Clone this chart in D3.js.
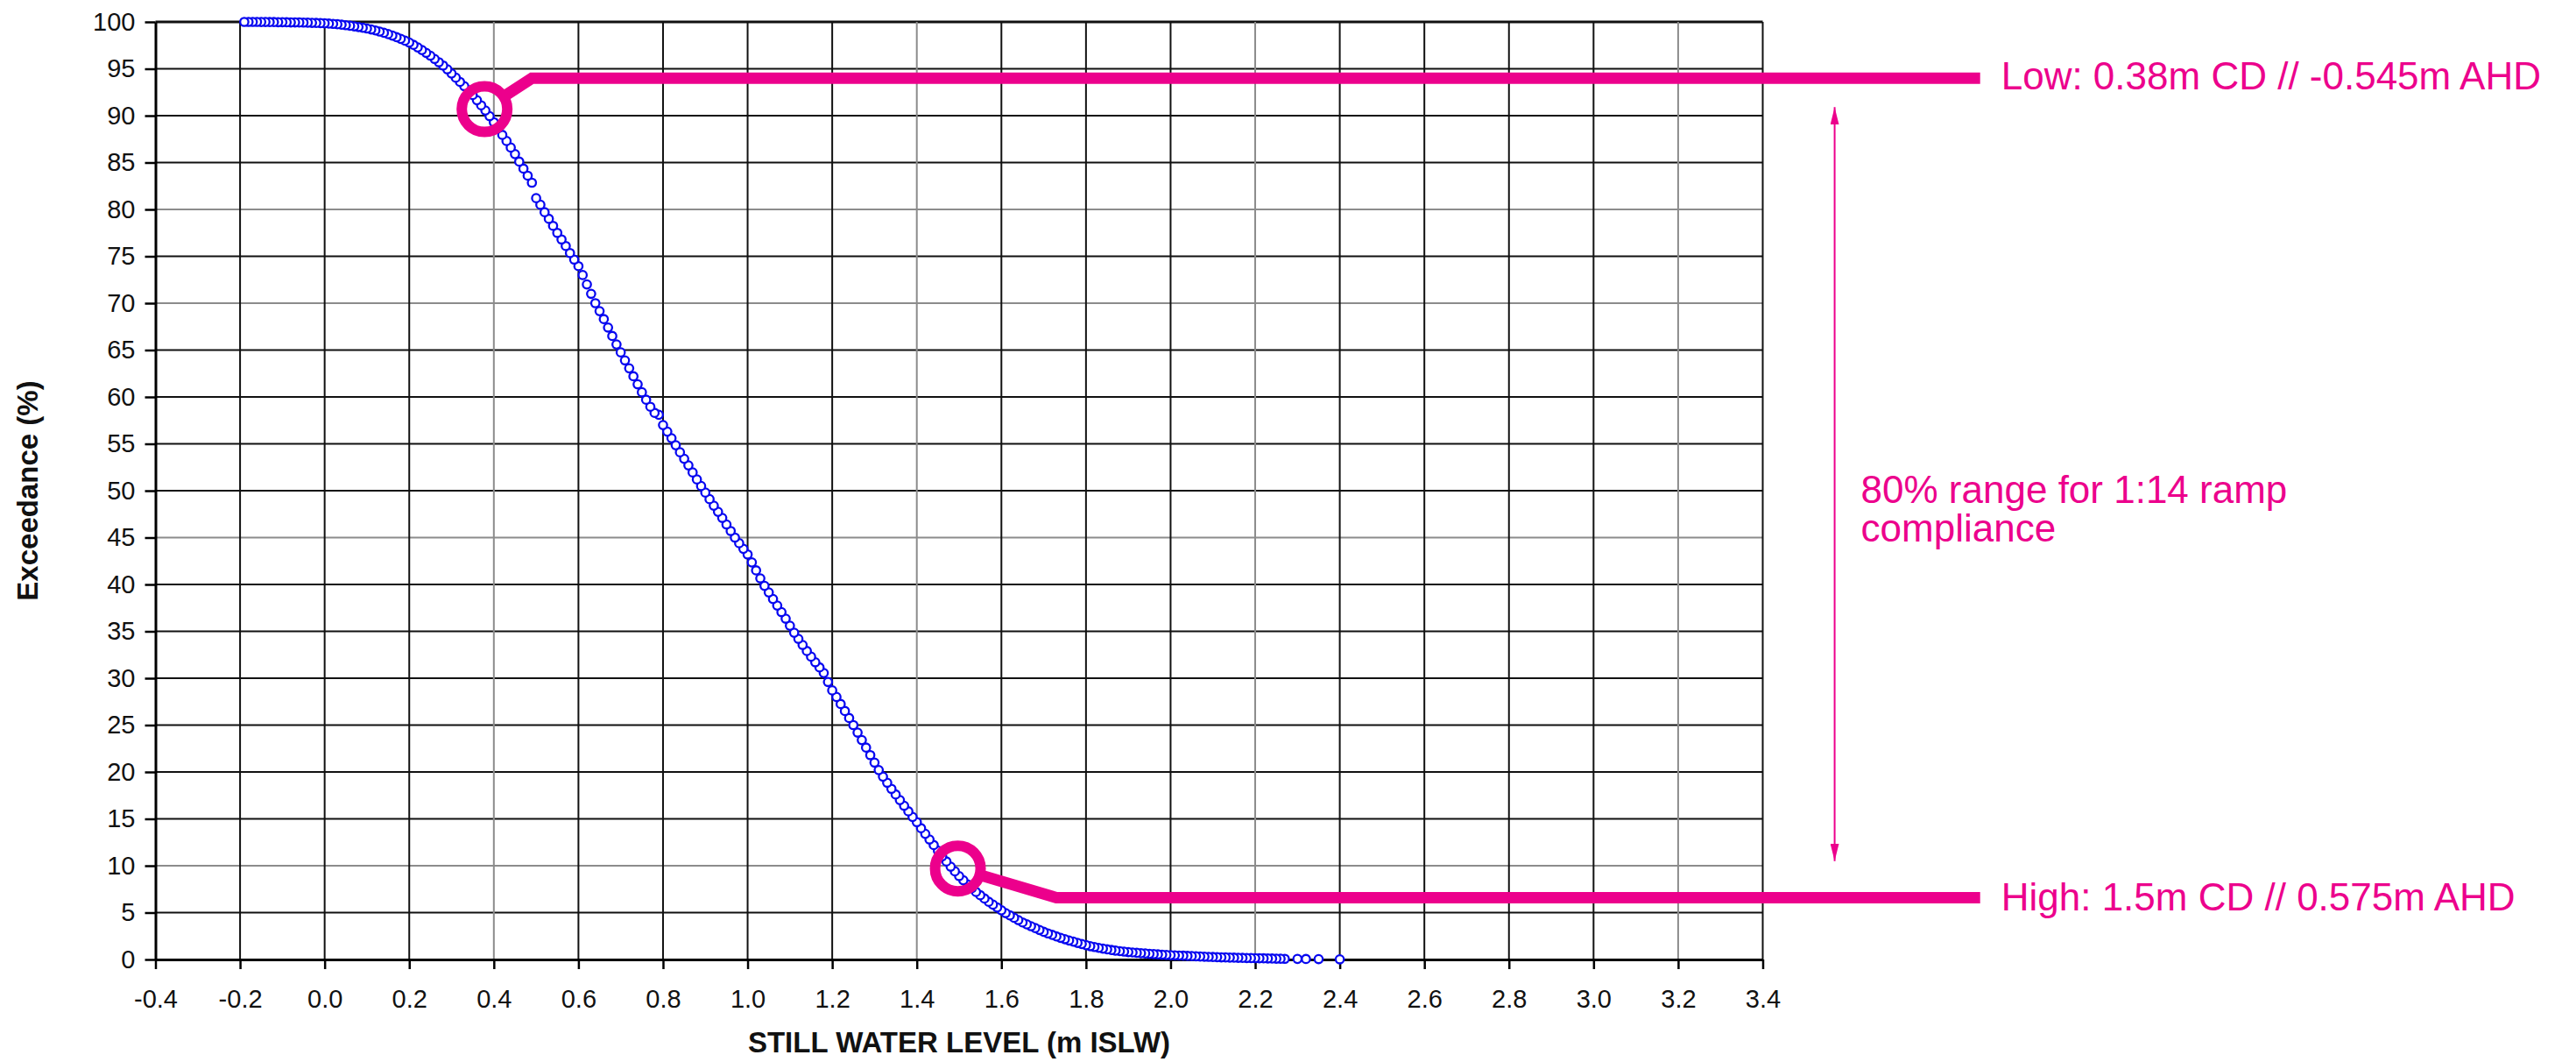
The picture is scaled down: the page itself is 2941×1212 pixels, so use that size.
<!DOCTYPE html>
<html>
<head>
<meta charset="utf-8">
<script src="https://cdn.jsdelivr.net/npm/d3@7"></script>
<style>
  html, body { margin: 0; padding: 0; background: #fff; }
  svg text { font-family: "Liberation Sans", Arial, sans-serif; }
</style>
</head>
<body>
<svg id="chart" width="2941" height="1212"></svg>
<script>
const levels = [
    -0.19, -0.18, -0.17, -0.16, -0.15, -0.14, -0.13, -0.12, -0.11, -0.10,
    -0.09, -0.08, -0.07, -0.06, -0.05, -0.04, -0.03, -0.02, -0.01, 0.00,
    0.01, 0.02, 0.03, 0.04, 0.05, 0.06, 0.07, 0.08, 0.09, 0.10,
    0.11, 0.12, 0.13, 0.14, 0.15, 0.16, 0.17, 0.18, 0.19, 0.20,
    0.21, 0.22, 0.23, 0.24, 0.25, 0.26, 0.27, 0.28, 0.29, 0.30,
    0.31, 0.32, 0.33, 0.34, 0.35, 0.36, 0.37, 0.38, 0.39, 0.40,
    0.41, 0.42, 0.43, 0.44, 0.45, 0.46, 0.47, 0.48, 0.49, 0.50,
    0.51, 0.52, 0.53, 0.54, 0.55, 0.56, 0.57, 0.58, 0.59, 0.60,
    0.61, 0.62, 0.63, 0.64, 0.65, 0.66, 0.67, 0.68, 0.69, 0.70,
    0.71, 0.72, 0.73, 0.74, 0.75, 0.76, 0.77, 0.78, 0.79, 0.80,
    0.81, 0.82, 0.83, 0.84, 0.85, 0.86, 0.87, 0.88, 0.89, 0.90,
    0.91, 0.92, 0.93, 0.94, 0.95, 0.96, 0.97, 0.98, 0.99, 1.00,
    1.01, 1.02, 1.03, 1.04, 1.05, 1.06, 1.07, 1.08, 1.09, 1.10,
    1.11, 1.12, 1.13, 1.14, 1.15, 1.16, 1.17, 1.18, 1.19, 1.20,
    1.21, 1.22, 1.23, 1.24, 1.25, 1.26, 1.27, 1.28, 1.29, 1.30,
    1.31, 1.32, 1.33, 1.34, 1.35, 1.36, 1.37, 1.38, 1.39, 1.40,
    1.41, 1.42, 1.43, 1.44, 1.45, 1.46, 1.47, 1.48, 1.49, 1.50,
    1.51, 1.52, 1.53, 1.54, 1.55, 1.56, 1.57, 1.58, 1.59, 1.60,
    1.61, 1.62, 1.63, 1.64, 1.65, 1.66, 1.67, 1.68, 1.69, 1.70,
    1.71, 1.72, 1.73, 1.74, 1.75, 1.76, 1.77, 1.78, 1.79, 1.80,
    1.81, 1.82, 1.83, 1.84, 1.85, 1.86, 1.87, 1.88, 1.89, 1.90,
    1.91, 1.92, 1.93, 1.94, 1.95, 1.96, 1.97, 1.98, 1.99, 2.00,
    2.01, 2.02, 2.03, 2.04, 2.05, 2.06, 2.07, 2.08, 2.09, 2.10,
    2.11, 2.12, 2.13, 2.14, 2.15, 2.16, 2.17, 2.18, 2.19, 2.20,
    2.21, 2.22, 2.23, 2.24, 2.25, 2.26, 2.27, 2.30, 2.32, 2.35, 2.40
];

const exceedance = [
    100.0, 100.0, 100.0, 100.0, 99.99, 99.99, 99.98, 99.98, 99.97, 99.97,
    99.96, 99.95, 99.95, 99.94, 99.93, 99.92, 99.90, 99.89, 99.87, 99.85,
    99.82, 99.79, 99.75, 99.70, 99.65, 99.59, 99.53, 99.46, 99.38, 99.30,
    99.20, 99.09, 98.97, 98.84, 98.70, 98.54, 98.37, 98.19, 98.00, 97.80,
    97.55, 97.28, 97.00, 96.70, 96.40, 96.05, 95.70, 95.35, 94.95, 94.50,
    94.05, 93.60, 93.15, 92.70, 92.20, 91.65, 91.10, 90.55, 89.95, 89.30,
    88.65, 87.95, 87.30, 86.60, 85.90, 85.10, 84.35, 83.60, 82.85, 81.20,
    80.50, 79.70, 79.00, 78.25, 77.50, 76.80, 76.10, 75.35, 74.65, 73.95,
    73.00, 72.00, 71.00, 70.00, 69.15, 68.30, 67.40, 66.50, 65.60, 64.75,
    63.90, 63.05, 62.20, 61.35, 60.50, 59.70, 58.95, 58.30, 58.10, 57.00,
    56.30, 55.60, 54.85, 54.10, 53.40, 52.70, 51.95, 51.20, 50.50, 49.80,
    49.10, 48.40, 47.75, 47.10, 46.40, 45.70, 45.00, 44.40, 43.80, 43.20,
    42.35, 41.50, 40.65, 39.85, 39.15, 38.45, 37.75, 37.05, 36.35, 35.60,
    34.85, 34.20, 33.55, 32.90, 32.30, 31.70, 31.15, 30.55, 29.60, 28.70,
    28.00, 27.25, 26.50, 25.75, 25.00, 24.20, 23.40, 22.60, 21.80, 21.00,
    20.20, 19.50, 18.85, 18.20, 17.60, 17.00, 16.40, 15.80, 15.20, 14.65,
    14.00, 13.40, 12.80, 12.20, 11.60, 11.00, 10.45, 9.90, 9.40, 8.90,
    8.45, 8.00, 7.60, 7.20, 6.85, 6.50, 6.15, 5.85, 5.55, 5.25,
    4.95, 4.70, 4.45, 4.20, 3.95, 3.75, 3.55, 3.35, 3.15, 2.95,
    2.78, 2.62, 2.46, 2.31, 2.17, 2.03, 1.90, 1.77, 1.65, 1.53,
    1.42, 1.33, 1.24, 1.16, 1.08, 1.01, 0.95, 0.89, 0.84, 0.79,
    0.75, 0.71, 0.67, 0.64, 0.60, 0.57, 0.54, 0.51, 0.48, 0.46,
    0.44, 0.42, 0.40, 0.38, 0.36, 0.34, 0.32, 0.30, 0.28, 0.26,
    0.25, 0.23, 0.22, 0.20, 0.19, 0.18, 0.17, 0.16, 0.15, 0.14,
    0.13, 0.12, 0.11, 0.10, 0.09, 0.08, 0.07, 0.06, 0.05, 0.04, 0.02
];

const xTicks = [-0.4, -0.2, 0.0, 0.2, 0.4, 0.6, 0.8, 1.0, 1.2, 1.4,
    1.6, 1.8, 2.0, 2.2, 2.4, 2.6, 2.8, 3.0, 3.2, 3.4];
const yTicks = [0, 5, 10, 15, 20, 25, 30, 35, 40, 45, 50,
    55, 60, 65, 70, 75, 80, 85, 90, 95, 100];

const xTitle = "STILL WATER LEVEL (m ISLW)";
const yTitle = "Exceedance (%)";
const lowLabel = "Low: 0.38m CD // -0.545m AHD";
const highLabel = "High: 1.5m CD // 0.575m AHD";
const rangeLabel = ["80% range for 1:14 ramp", "compliance"];

// annotation anchors, in data units
const lowPoint = [0.378, 90.7], lowKnee = [0.49, 94.0];
const highPoint = [1.497, 9.7], highKnee = [1.73, 6.6];
const leaderEndX = 3.914;
const rangeArrowX = 3.57, rangeArrowFrom = 90.9, rangeArrowTo = 10.5;

const svg = d3.select("#chart");
const pink = "#ec008c";

const x = d3.scaleLinear().domain([-0.4, 3.4]).range([177.5, 2012.5]);
const y = d3.scaleLinear().domain([0, 100]).range([1095, 25]);

// the scan shows some grid lines paler than others
const paleX = [0.4, 1.4, 2.2, 3.2], paleY = [80, 70, 45, 10];

const grid = svg.append("g").attr("class", "grid");
grid.selectAll("line.h")
    .data(yTicks.filter(d => d > 0))
    .enter()
    .append("line")
    .attr("class", "h")
    .attr("x1", x(-0.4))
    .attr("x2", x(3.4))
    .attr("y1", d => y(d))
    .attr("y2", d => y(d))
    .attr("stroke", d => paleY.includes(d) ? "#8c8c8c" : "#111")
    .attr("stroke-width", d => d === 100 ? 3 : 2);

grid.selectAll("line.v")
    .data(xTicks.filter(d => d > -0.4))
    .enter()
    .append("line")
    .attr("class", "v")
    .attr("x1", d => x(d))
    .attr("x2", d => x(d))
    .attr("y1", y(0))
    .attr("y2", y(100))
    .attr("stroke", d => paleX.includes(d) ? "#8c8c8c" : "#111")
    .attr("stroke-width", 2);

const xAxis = svg.append("g")
    .attr("transform", `translate(0,${y(0)})`)
    .call(d3.axisBottom(x)
        .tickValues(xTicks)
        .tickFormat(d => d.toFixed(1))
        .tickSize(11)
        .tickSizeOuter(0)
        .tickPadding(23));

const yAxis = svg.append("g")
    .attr("transform", `translate(${x(-0.4)},0)`)
    .call(d3.axisLeft(y)
        .tickValues(yTicks)
        .tickSize(12)
        .tickSizeOuter(0)
        .tickPadding(11));

[xAxis, yAxis].forEach(ax => {
    ax.select(".domain").attr("stroke", "#000").attr("stroke-width", 3);
    ax.selectAll(".tick line").attr("stroke", "#000").attr("stroke-width", 2.5);
    ax.selectAll(".tick text")
        .attr("fill", "#111")
        .style("font-size", "29px")
        .style("font-family", "'Liberation Sans', Arial, sans-serif");
});

svg.append("text")
    .attr("x", (x(-0.4) + x(3.4)) / 2)
    .attr("y", 1201)
    .attr("text-anchor", "middle")
    .style("font-size", "33px")
    .style("font-weight", "bold")
    .attr("fill", "#111")
    .text(xTitle);

svg.append("text")
    .attr("transform", `translate(43,${(y(0) + y(100)) / 2}) rotate(-90)`)
    .attr("text-anchor", "middle")
    .style("font-size", "33px")
    .style("font-weight", "bold")
    .attr("fill", "#111")
    .text(yTitle);

// points drawn from high level to low so the left circle sits on top
const points = levels.map((l, i) => ({level: l, pct: exceedance[i]})).reverse();
svg.append("g")
    .selectAll("circle")
    .data(points)
    .enter()
    .append("circle")
    .attr("cx", d => x(d.level))
    .attr("cy", d => y(d.pct))
    .attr("r", 4.7)
    .attr("fill", "#fff")
    .attr("stroke", "#0808f0")
    .attr("stroke-width", 2.3);

// annotations
const ringR = 26;
function leader(pt, knee) {
    const cx = x(pt[0]), cy = y(pt[1]);
    const kx = x(knee[0]), ky = y(knee[1]);
    const a = Math.atan2(ky - cy, kx - cx);
    return [[cx + ringR * Math.cos(a), cy + ringR * Math.sin(a)], [kx, ky], [x(leaderEndX), ky]];
}

const ann = svg.append("g").attr("class", "annotations");
[[lowPoint, lowKnee], [highPoint, highKnee]].forEach(([pt, knee]) => {
    ann.append("path")
        .attr("d", d3.line()(leader(pt, knee)))
        .attr("fill", "none")
        .attr("stroke", pink)
        .attr("stroke-width", 13)
        .attr("stroke-linejoin", "miter");
    ann.append("circle")
        .attr("cx", x(pt[0]))
        .attr("cy", y(pt[1]))
        .attr("r", ringR)
        .attr("fill", "none")
        .attr("stroke", pink)
        .attr("stroke-width", 12);
});

const labelX = x(leaderEndX) + 24;
ann.append("text")
    .attr("x", labelX)
    .attr("y", y(lowKnee[1]) + 13)
    .attr("fill", pink)
    .style("font-size", "44px")
    .text(lowLabel);
ann.append("text")
    .attr("x", labelX)
    .attr("y", y(highKnee[1]) + 15)
    .attr("fill", pink)
    .style("font-size", "44px")
    .text(highLabel);

svg.append("defs").append("marker")
    .attr("id", "head")
    .attr("viewBox", "0 0 20 10")
    .attr("refX", 20)
    .attr("refY", 5)
    .attr("markerUnits", "userSpaceOnUse")
    .attr("markerWidth", 20)
    .attr("markerHeight", 10)
    .attr("orient", "auto-start-reverse")
    .append("path")
    .attr("d", "M0,0 L20,5 L0,10 Z")
    .attr("fill", pink);

ann.append("line")
    .attr("x1", x(rangeArrowX))
    .attr("x2", x(rangeArrowX))
    .attr("y1", y(rangeArrowFrom))
    .attr("y2", y(rangeArrowTo))
    .attr("stroke", pink)
    .attr("stroke-width", 2)
    .attr("marker-start", "url(#head)")
    .attr("marker-end", "url(#head)");

const midY = (y(rangeArrowFrom) + y(rangeArrowTo)) / 2;
ann.selectAll("text.range")
    .data(rangeLabel)
    .enter()
    .append("text")
    .attr("class", "range")
    .attr("x", x(rangeArrowX) + 30)
    .attr("y", (d, i) => midY + 21 + i * 44)
    .attr("fill", pink)
    .style("font-size", "44px")
    .text(d => d);
</script>
</body>
</html>
